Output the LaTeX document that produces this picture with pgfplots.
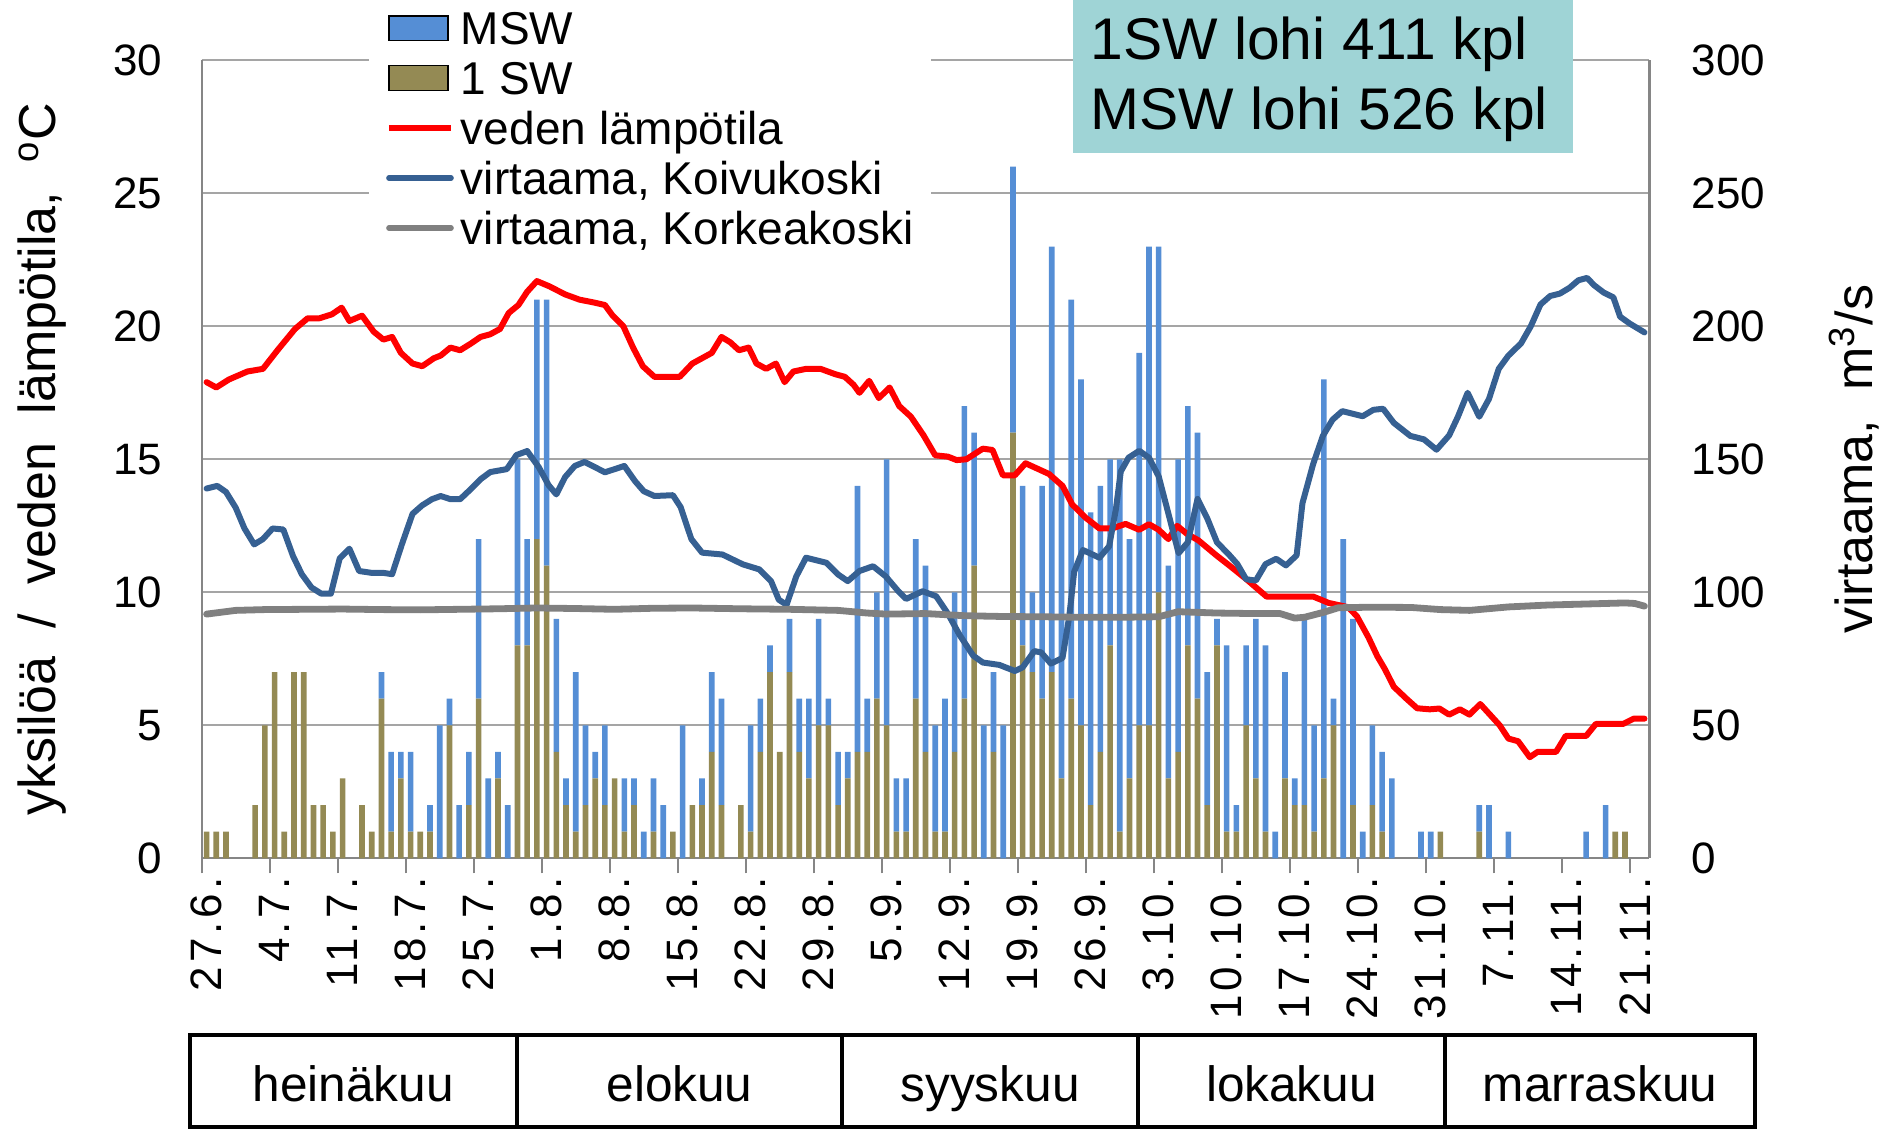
\documentclass[border=0pt]{standalone}
\usepackage{fontspec}
\setmainfont{Liberation Sans}
\usepackage{pgfplots}
\usepackage{pgfplotstable}
\pgfplotsset{compat=1.18}
\definecolor{mswblue}{RGB}{85,142,213}
\definecolor{swolive}{RGB}{148,138,84}
\definecolor{koivu}{RGB}{54,96,146}
\definecolor{korkea}{RGB}{128,128,128}
\definecolor{gridgray}{RGB}{165,165,165}
\definecolor{axisgray}{RGB}{134,134,134}
\definecolor{boxteal}{RGB}{159,212,214}

\pgfplotstableread{
d a b
0 1 0
1 1 0
2 1 0
3 0 0
4 0 0
5 2 0
6 5 0
7 7 0
8 1 0
9 7 0
10 7 0
11 2 0
12 2 0
13 1 0
14 3 0
15 0 0
16 2 0
17 1 0
18 6 1
19 1 3
20 3 1
21 1 3
22 1 0
23 1 1
24 0 5
25 5 1
26 0 2
27 2 2
28 6 6
29 0 3
30 3 1
31 0 2
32 8 7
33 8 4
34 12 9
35 11 10
36 4 5
37 2 1
38 1 6
39 2 3
40 3 1
41 2 3
42 3 0
43 1 2
44 2 1
45 0 1
46 1 2
47 0 2
48 1 0
49 0 5
50 2 0
51 2 1
52 4 3
53 2 4
54 0 0
55 2 0
56 1 4
57 4 2
58 7 1
59 4 0
60 7 2
61 4 2
62 3 3
63 5 4
64 5 1
65 2 2
66 3 1
67 4 10
68 4 2
69 6 4
70 5 10
71 1 2
72 1 2
73 6 6
74 4 7
75 1 4
76 1 5
77 4 6
78 6 11
79 11 5
80 0 5
81 4 3
82 0 5
83 16 10
84 8 6
85 7 3
86 6 8
87 7 16
88 3 11
89 6 15
90 5 13
91 2 11
92 4 10
93 8 7
94 1 14
95 3 9
96 5 14
97 5 18
98 10 13
99 3 8
100 4 11
101 8 9
102 6 10
103 2 5
104 8 1
105 1 7
106 1 1
107 5 3
108 3 6
109 1 7
110 0 1
111 3 4
112 2 1
113 2 7
114 1 4
115 3 15
116 5 1
117 0 12
118 2 7
119 0 1
120 2 3
121 1 3
122 0 3
123 0 0
124 0 0
125 0 1
126 0 1
127 1 0
128 0 0
129 0 0
130 0 0
131 1 1
132 0 2
133 0 0
134 0 1
135 0 0
136 0 0
137 0 0
138 0 0
139 0 0
140 0 0
141 0 0
142 0 1
143 0 0
144 0 2
145 1 0
146 1 0
147 0 0
148 0 0
}\bars

\pgfplotstableread{
d t
0 17.9
1 17.7
2.3 18.0
4.2 18.3
5.8 18.4
7.3 19.1
9.1 19.9
10.4 20.3
11.6 20.3
12.9 20.45
13.9 20.7
14.7 20.2
16 20.4
17.2 19.8
18.2 19.5
19.1 19.6
20 19.0
21.2 18.6
22.2 18.5
23.4 18.8
24.1 18.9
25.1 19.2
26.1 19.1
27.2 19.35
28.2 19.6
29.2 19.7
30.2 19.9
31.1 20.5
32.1 20.8
33 21.3
34 21.7
35.3 21.5
36.9 21.2
38.4 21.0
39.8 20.9
41 20.8
41.8 20.4
42.9 20.0
43.9 19.2
44.9 18.5
46.1 18.1
48.7 18.1
50 18.6
52 19.0
53 19.6
53.9 19.4
54.8 19.1
55.8 19.2
56.6 18.6
57.6 18.4
58.6 18.6
59.5 17.9
60.4 18.3
61.7 18.4
63.2 18.4
64.7 18.2
65.7 18.1
66.6 17.8
67.2 17.5
68.2 17.95
69.2 17.3
70.3 17.7
71.3 17.0
72.5 16.6
73.8 15.9
75 15.15
76.3 15.1
77.2 14.97
78.2 15.0
79.9 15.4
80.9 15.35
81.96 14.4
83.2 14.4
84.3 14.85
86.7 14.45
88.1 14.0
89.1 13.3
90.5 12.8
91.9 12.4
93.2 12.4
94.6 12.57
96 12.35
97 12.56
98 12.35
99 12.0
99.9 12.5
100.9 12.2
102.1 11.95
103.9 11.4
105.3 11.0
107 10.5
109.1 9.84
113.9 9.84
115.5 9.6
117.5 9.44
118.4 9.1
119.6 8.3
120.5 7.6
121.3 7.1
122.2 6.45
123.5 6.0
124.6 5.64
125.9 5.6
126.9 5.63
127.9 5.4
129 5.6
130 5.4
131.1 5.8
132.1 5.4
133.1 5.0
134 4.5
135 4.4
136.2 3.8
137 4.0
138.9 4.0
139.9 4.6
142 4.6
143 5.05
145.8 5.05
146.9 5.25
148 5.25
}\temp

\pgfplotstableread{
d q
0 139
1.1 140
2 137.7
3 131.8
3.9 124
4.9 118
5.8 120
6.8 124
7.9 123.6
8.9 113.6
9.8 106.8
10.8 101.8
11.8 99.5
12.8 99.5
13.7 112.7
14.7 116.4
15.7 108
17 107.3
18.2 107.3
19.1 106.8
20.1 118
21.2 129.5
22.2 132.7
23.2 135
24.1 136.2
25.1 135
26.1 135
27.2 138.8
28.2 142.5
29.2 145.2
30.9 146.3
31.9 151.6
33 153.1
34.2 147
35.2 140.3
36 136.8
36.9 143.3
37.9 147.5
38.9 149
40 147
41 145.1
42 146.3
43 147.5
44.1 141.8
45 138
46.1 136.2
48 136.5
48.8 132
49.9 120
51 114.9
53.1 114.2
55.2 110.5
56.9 108.6
58.1 104.2
58.9 97.2
59.7 95.3
60.7 106
61.7 113
63.8 111.1
65 106.7
66 104.2
67.2 108
68.6 109.8
69.9 106
71.2 100.4
72 97.5
73.7 100.4
75.1 98.5
76.3 92
77.5 84
78.9 76.2
79.9 73.6
81.6 72.7
83.2 70.4
84 71.8
85.2 77.9
85.9 77.4
86.9 73.2
88.1 75.3
88.8 91
89.3 107.7
90.2 115.9
91.9 113
92.9 117.3
93.6 131.3
94.1 145.4
94.9 150.6
96 153.2
97 150.6
98 143.6
99 129.6
100.05 114.7
101 118.8
102 135.1
103 127.8
104 118.8
105.3 113.9
106.1 110.6
107 104.9
108 104.4
109 110.6
110.1 112.6
111.1 110.1
112.2 113.9
112.8 133.5
113.9 148.2
114.9 158.8
115.9 164.9
116.9 168.1
119 166.2
120.1 168.6
121.1 169
122.2 163.7
123.9 158.8
125.3 157.5
126.6 153.6
127.9 159
128.8 166
129.8 175
131 166
132 172.7
133 184
134 189
135.3 193.6
136.3 200
137.3 208.2
138.3 211.4
139.3 212.3
140.3 214.5
141.2 217.3
142.1 218.2
142.8 215.5
143.8 212.7
144.8 210.9
145.5 203.6
146.5 201
148 197.7
}\koivu

\pgfplotstableread{
d q
0 91.8
1.5 92.5
3 93.2
6 93.5
10 93.6
14 93.7
18 93.5
22 93.4
26 93.6
30 93.8
34 94.1
38 93.9
42 93.6
46 94
50 94.1
55 93.8
60 93.6
65 93.2
68 92.2
70 91.8
74 92
78 91.2
82 90.9
86 90.8
90 90.6
94 90.6
98 90.8
100 92.7
104 92.2
108 92.0
110.5 92
112 90.3
113 90.6
115 92.5
116.5 94.2
120 94.4
124 94.3
127 93.5
130 93.2
134 94.5
138 95.2
142 95.6
146 96
147 95.8
148 94.8
}\korkea

\pgfplotsset{
  base/.style={
    scale only axis, width=361.9pt, height=199.5pt,
    xmin=-0.5, xmax=148.5, at={(0pt,0pt)}, anchor=south west,
    /pgf/number format/assume math mode=true,
    tick label style={font=\fontsize{11}{13}\selectfont},
    major tick length=0pt, tick align=outside,
  },
  barleg/.style={legend image code/.code={\fill[##1] (0pt,-3.1pt) rectangle (14.8pt,3.1pt);}},
}

\begin{document}
\begin{tikzpicture}
\path[use as bounding box] (-50.43pt,-68.18pt) rectangle (423.08pt,214.58pt);

% axis 1: bars, left axis
\begin{axis}[base,
  ymin=0, ymax=30, ytick={0,5,...,30},
  axis x line*=bottom, axis y line*=left,
  axis line style={draw=axisgray, line width=0.6pt},
  ymajorgrids, grid style={draw=gridgray, line width=0.5pt},
  ybar stacked, bar width=0.58,
  xtick={0,7,...,147},
  xticklabels={27.6.,4.7.,11.7.,18.7.,25.7.,1.8.,8.8.,15.8.,22.8.,29.8.,5.9.,12.9.,19.9.,26.9.,3.10.,10.10.,17.10.,24.10.,31.10.,7.11.,14.11.,21.11.},
  xticklabel style={yshift=-4.6pt, rotate=90, anchor=east, inner sep=0pt,
    font=\fontsize{11}{13}\selectfont\addfontfeature{LetterSpace=9}},
  extra x ticks={-0.5,6.5,...,146.5},
  extra x tick labels={},
  extra x tick style={major tick length=3.8pt, xtick style={draw=axisgray, line width=0.6pt}},
  ytick style={draw=none},
  yticklabel style={anchor=east, inner sep=0pt, xshift=-9.7pt},
  ylabel={yksilöä~ /~ veden~ lämpötila,~ \textsuperscript{o}C},
  every axis y label/.style={at={(axis description cs:-0.1103,0.5)}, rotate=90, anchor=center, font=\fontsize{13}{15}\selectfont},
]
\addplot[fill=swolive, draw=none] table[x=d, y=a] {\bars};
\addplot[fill=mswblue, draw=none] table[x=d, y=b] {\bars};
\end{axis}

% axis 2: temperature
\begin{axis}[base, ymin=0, ymax=30, hide axis]
\addplot[red, line width=1.5pt, line join=round, line cap=round] table[x=d, y=t] {\temp};
\end{axis}

% axis 3: flows, right axis
\begin{axis}[base,
  ymin=0, ymax=300, ytick={0,50,...,300},
  axis x line=none, axis y line*=right,
  axis line style={draw=axisgray, line width=0.6pt},
  ytick style={draw=none},
  yticklabel style={anchor=west, inner sep=0pt, xshift=10.4pt},
  ylabel={virtaama,~~m\textsuperscript{3}/s},
  every axis y label/.style={at={(axis description cs:1.1414,0.5)}, rotate=90, anchor=center, font=\fontsize{13}{15}\selectfont},
  ylabel style={at={(axis description cs:1.1414,0.5)}, rotate=0, anchor=center},
  legend image code/.code={\draw[#1, line width=1.3pt] (0pt,0pt) -- (15.6pt,0pt);},
  legend cell align=left,
  legend style={at={(0.115,1.0757)}, anchor=north west, draw=none, fill=white,
    inner xsep=4.3pt, inner ysep=0.6pt, font=\fontsize{11.5}{12}\selectfont,
    row sep=0pt, nodes={inner sep=0pt, text height=10.3pt, text depth=2.2pt},
    /tikz/every odd column/.append style={column sep=1.8pt}},
]
\addlegendimage{barleg, fill=mswblue}
\addlegendentry{MSW}
\addlegendimage{barleg, fill=swolive}
\addlegendentry{1 SW}
\addlegendimage{red}
\addlegendentry{veden lämpötila}
\addplot[koivu, line width=1.5pt, line join=round, line cap=round] table[x=d, y=q] {\koivu};
\addlegendentry{virtaama, Koivukoski}
\addplot[korkea, line width=1.7pt, line join=round, line cap=round] table[x=d, y=q] {\korkea};
\addlegendentry{virtaama, Korkeakoski}
\end{axis}

% info box
\fill[boxteal] (217.75pt,176.2pt) rectangle (342.8pt,214.6pt);
\node[anchor=base west, inner sep=0pt, font=\fontsize{14.7}{16}\selectfont] at (222.0pt,199.6pt) {1SW lohi 411 kpl};
\node[anchor=base west, inner sep=0pt, font=\fontsize{14.7}{16}\selectfont] at (222.0pt,182.1pt) {MSW lohi 526 kpl};

% month table
\draw[line width=1pt] (-3.0pt,-44.25pt) rectangle (388.4pt,-67.2pt);
\foreach \xx in {78.8,160.1,234.1,310.8} \draw[line width=1pt] (\xx pt,-44.25pt) -- (\xx pt,-67.2pt);
\foreach \xx/\mm in {37.9/heinäkuu,119.45/elokuu,197.1/syyskuu,272.45/lokakuu,349.6/marraskuu}
  \node[anchor=base, inner sep=0pt, font=\fontsize{12.4}{14}\selectfont] at (\xx pt,-60.85pt) {\mm};
\end{tikzpicture}
\end{document}
